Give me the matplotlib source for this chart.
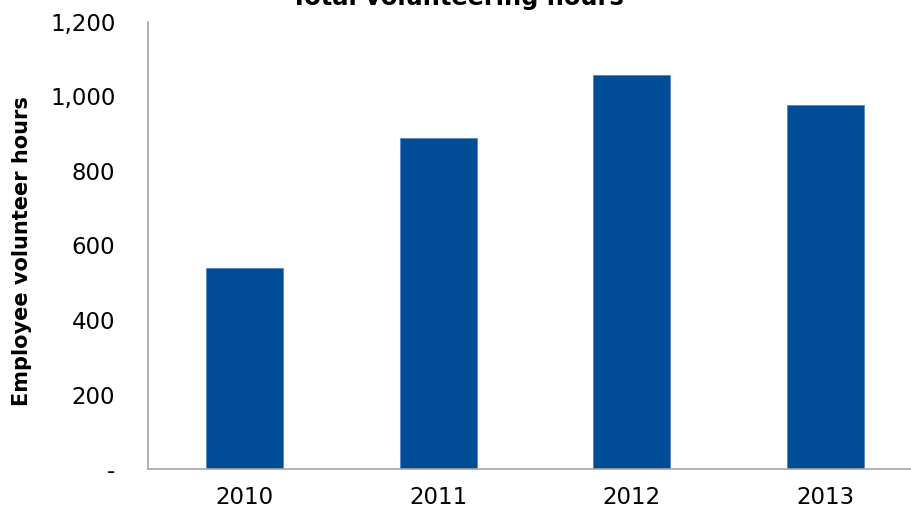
import matplotlib
matplotlib.use("Agg")
import matplotlib.pyplot as plt
from matplotlib.ticker import FuncFormatter

years = ["2010", "2011", "2012", "2013"]
hours = [540, 888, 1057, 977]
yticks = [0, 200, 400, 600, 800, 1000, 1200]

plt.rcParams['font.family'] = ['DejaVu Sans']

fig = plt.figure(figsize=(9.11, 5.15), dpi=100)
ax = fig.add_axes([148/911, 1-469/515, (922-148)/911, (469-22)/515])

x = list(range(len(years)))
ax.bar(x, hours, width=0.4, color="#004c97", edgecolor="#5a86c0", linewidth=0.6)
ax.set_xlim(-0.5, 3.5)
ax.set_ylim(0, 1200)
ax.set_xticks(x)
ax.set_xticklabels(years)
ax.set_yticks(yticks)
ax.yaxis.set_major_formatter(FuncFormatter(lambda v, p: "-" if v == 0 else f"{int(v):,}"))
ax.tick_params(axis='y', length=0, pad=23.5, labelsize=16.5)
ax.tick_params(axis='x', length=0, pad=12.5, labelsize=16.5)
for s in ["top", "right"]:
    ax.spines[s].set_visible(False)
for s in ["left", "bottom"]:
    ax.spines[s].set_color("#a6a6a6")
    ax.spines[s].set_linewidth(1.2)
fig.text(22/911, 1-251/515, "Employee volunteer hours", rotation=90, fontsize=15,
         fontweight="bold", ha="center", va="center")
fig.text(457/911, 1-5/515, "Total volunteering hours", fontsize=17.4, fontweight="bold",
         ha="center", va="baseline")

fig.savefig("out.png", dpi=100)
